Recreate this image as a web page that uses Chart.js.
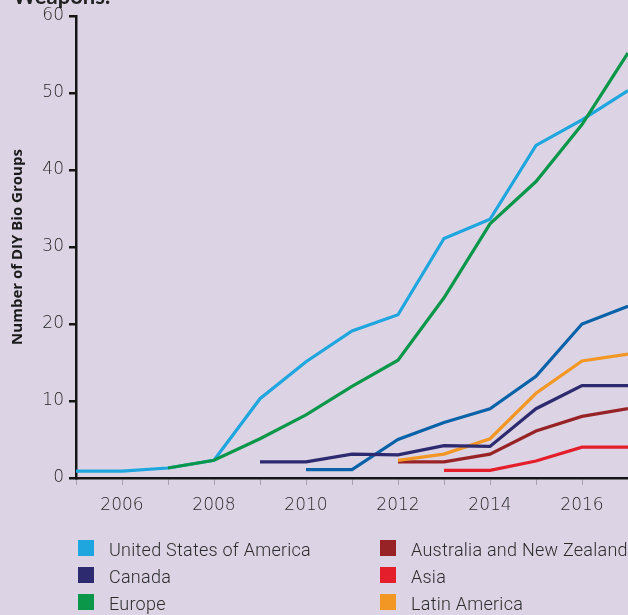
<!DOCTYPE html>
<html>
<head>
<meta charset="utf-8">
<script src="https://cdn.jsdelivr.net/npm/chart.js@4"></script>
<style>
  html, body { margin:0; padding:0; background:#dcd4e5; overflow:hidden; }
  #wrap { position:relative; width:628px; height:615px; }
  #chartBox { position:absolute; left:0; top:0; width:628px; height:530px; }
  #legend { position:absolute; left:0; top:0; width:628px; height:615px; pointer-events:none; }
  .item { position:absolute; height:18px; font-family:Roboto, Lato, sans-serif; font-weight:300; font-size:18px; letter-spacing:0.25px; color:#2c2c2c; line-height:18px; white-space:nowrap; }
  .sw { position:absolute; left:0; top:0; width:16px; height:16px; }
  .tx { position:absolute; left:31px; top:1px; }
</style>
</head>
<body>
<div id="wrap">
  <div id="chartBox"><canvas id="c"></canvas></div>
  <div id="legend"></div>
</div>
<script>
const years = [2005,2006,2007,2008,2009,2010,2011,2012,2013,2014,2015,2016,2017];
const usa       = [0.9,0.9,1.3,2.3,10.3,15.1,19.1,21.2,31.1,33.6,43.2,46.5,50.3];
const canada    = [null,null,null,null,2.1,2.1,3.1,3.0,4.2,4.1,9.0,12.0,12.0];
const europe    = [null,null,1.3,2.3,5.1,8.2,11.9,15.3,23.4,33.0,38.5,45.9,55.2];
const ausNz     = [null,null,null,null,null,null,null,2.1,2.1,3.1,6.1,8.0,9.0];
const asia      = [null,null,null,null,null,null,null,null,1.0,1.0,2.2,4.0,4.0];
const latAm     = [null,null,null,null,null,null,null,2.3,3.1,5.1,11.0,15.2,16.1];
const other     = [null,null,null,null,null,1.1,1.1,5.0,7.2,9.0,13.2,20.0,22.3];

const seriesNames  = ["United States of America","Canada","Europe","Australia and New Zealand","Asia","Latin America","Other"];
const seriesColors = ["#1fa6df","#2d2a70","#0b974a","#982326","#e41f2b","#f29624","#0a62a8"];
const seriesData   = [usa, canada, europe, ausNz, asia, latAm, other];
const drawOrder    = [6, 3, 4, 5, 1, 0, 2];

const yTicks = [0,10,20,30,40,50,60];
const yTitle = "Number of DIY Bio Groups";
const topText = "Weapons.";

const datasets = seriesData.map((d, i) => ({
  label: seriesNames[i],
  data: d,
  borderColor: seriesColors[i],
  backgroundColor: seriesColors[i],
  borderWidth: 3.2,
  pointRadius: 0,
  tension: 0,
  spanGaps: false,
  borderJoinStyle: 'miter',
  order: drawOrder.length - drawOrder.indexOf(i)
}));

const topTextPlugin = {
  id: 'topText',
  afterDraw(chart) {
    const ctx = chart.ctx;
    ctx.save();
    ctx.font = 'bold 22px Lato, "Open Sans", sans-serif';
    ctx.fillStyle = '#222';
    ctx.textBaseline = 'alphabetic';
    ctx.fillText(topText, 13, 4);
    ctx.restore();
  }
};

const tickFont = { family: '"DejaVu Sans", sans-serif', size: 17, weight: 200 };

new Chart(document.getElementById('c'), {
  type: 'line',
  data: { labels: years, datasets },
  plugins: [topTextPlugin],
  options: {
    responsive: true,
    maintainAspectRatio: false,
    animation: false,
    layout: { padding: { top: 16, right: 0, left: 0, bottom: 0 } },
    plugins: { legend: { display: false }, tooltip: { enabled: false } },
    scales: {
      x: {
        type: 'category',
        offset: false,
        afterFit(s) { s.height = 52; s.paddingRight = 0; s.paddingLeft = 0; },
        border: { display: true, color: '#151515', width: 2.5 },
        grid: { drawOnChartArea: false, drawTicks: true, tickLength: 7, color: '#a8a2ae', lineWidth: 1 },
        ticks: {
          autoSkip: false, maxRotation: 0, padding: 10,
          color: '#262626',
          font: tickFont,
          callback(v, i) { const y = years[i]; return (y % 2 === 0) ? String(y) : ''; }
        }
      },
      y: {
        min: 0, max: 60,
        afterFit(s) { s.width = 76; },
        afterBuildTicks(s) { s.ticks = yTicks.map(v => ({ value: v })); },
        border: { display: true, color: '#151515', width: 2.5 },
        grid: { drawOnChartArea: false, drawTicks: true, tickLength: 7, color: '#151515', lineWidth: 2.5 },
        ticks: {
          padding: 5,
          color: '#262626',
          font: tickFont
        },
        title: {
          display: true, text: yTitle, color: '#1a1a1a',
          padding: { top: 9, bottom: 0 },
          font: { family: '"Open Sans", Lato, sans-serif', size: 15, weight: 'bold' }
        }
      }
    }
  }
});

// HTML legend built from the series arrays (two columns)
const legendOrder = [[0, 78, 540],[1, 78, 567],[2, 78, 594],[3, 380, 540],[4, 380, 567],[5, 380, 594]];
const lg = document.getElementById('legend');
legendOrder.forEach(([i, x, y]) => {
  const it = document.createElement('div');
  it.className = 'item';
  it.style.left = x + 'px'; it.style.top = y + 'px';
  const sw = document.createElement('div'); sw.className = 'sw'; sw.style.background = seriesColors[i];
  const tx = document.createElement('div'); tx.className = 'tx'; tx.textContent = seriesNames[i];
  it.appendChild(sw); it.appendChild(tx); lg.appendChild(it);
});
</script>
</body>
</html>
